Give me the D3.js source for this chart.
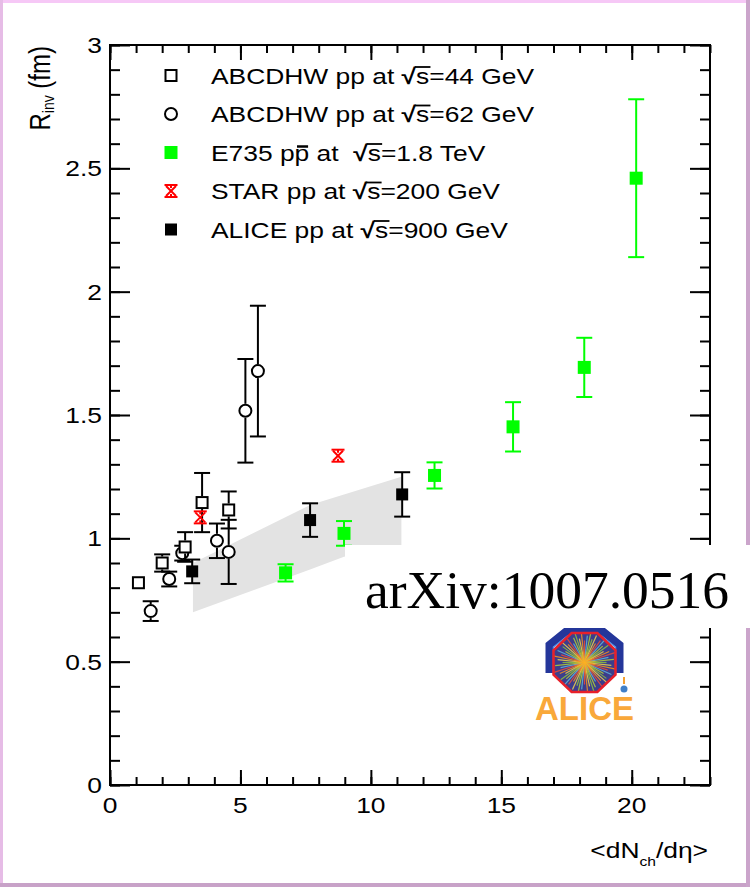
<!DOCTYPE html>
<html>
<head>
<meta charset="utf-8">
<script src="https://cdn.jsdelivr.net/npm/d3@7"></script>
<style>
  html, body { margin: 0; padding: 0; background: #fff; }
  svg { display: block; }
  text { font-family: "Liberation Sans", Arial, Helvetica, sans-serif; }
  text.serif { font-family: "Liberation Serif", "Times New Roman", serif; }
</style>
</head>
<body>
<svg id="chart" width="750" height="887"></svg>
<script>
// ---------- data: R_inv (fm) versus <dN_ch/deta> ----------
// ABCDHW pp, sqrt(s) = 44 GeV
const abcdhw44X   = [1.09, 2.00, 2.88, 3.53, 4.55];
const abcdhw44R   = [0.82, 0.90, 0.965, 1.145, 1.115];
const abcdhw44Err = [0.02, 0.035, 0.06, 0.12, 0.075];

// ABCDHW pp, sqrt(s) = 62 GeV
const abcdhw62X   = [1.56, 2.27, 2.77, 4.10, 4.55, 5.19, 5.67];
const abcdhw62R   = [0.705, 0.835, 0.94, 0.99, 0.945, 1.517, 1.678];
const abcdhw62Err = [0.04, 0.03, 0.03, 0.07, 0.13, 0.21, 0.265];

// E735 p-pbar, sqrt(s) = 1.8 TeV
const e735X   = [6.73, 8.97, 12.44, 15.45, 18.18, 20.17];
const e735R   = [0.86, 1.02, 1.255, 1.452, 1.693, 2.46];
const e735Err = [0.035, 0.05, 0.053, 0.10, 0.12, 0.32];

// STAR pp, sqrt(s) = 200 GeV
const starX   = [3.46, 8.74];
const starR   = [1.085, 1.335];

// ALICE pp, sqrt(s) = 900 GeV
const aliceX   = [3.15, 7.67, 11.20];
const aliceR   = [0.866, 1.074, 1.178];
const aliceErr = [0.048, 0.068, 0.09];

// ALICE systematic band
const bandX     = [3.18, 7.67, 8.97, 11.17];
const bandUpper = [0.90, 1.135, 1.178, 1.25];
const bandLower = [0.70, 0.874, 0.925, 0.97];

// axes
const xMajorTicks = [0, 5, 10, 15, 20];
const xTickLabels = ["0", "5", "10", "15", "20"];
const yMajorTicks = [0, 0.5, 1, 1.5, 2, 2.5, 3];
const yTickLabels = ["0", "0.5", "1", "1.5", "2", "2.5", "3"];

// legend
const legendPrefix = ["ABCDHW pp at ", "ABCDHW pp at ", "E735 pp at  ", "STAR pp at ", "ALICE pp at "];
const legendEnergy = ["=44 GeV", "=62 GeV", "=1.8 TeV", "=200 GeV", "=900 GeV"];
const legendBarChar = [-1, -1, 6, -1, -1];   // character carrying an antiparticle bar

// ---------- layout ----------
const W = 750, H = 887;
const frame = { left: 110, right: 710, top: 45, bottom: 785 };
const SX = 1.2;            // horizontal stretch of the lettering
const FS = 22;             // base font size

const svg = d3.select("#chart");
const x = d3.scaleLinear().domain([0, 23]).range([frame.left, frame.right]);
const y = d3.scaleLinear().domain([0, 3]).range([frame.bottom, frame.top]);

svg.append("rect").attr("width", W).attr("height", H).attr("fill", "#fff");

// page border
svg.append("rect").attr("x", 0).attr("y", 0).attr("width", W).attr("height", 3).attr("fill", "#f6c8f6");
svg.append("rect").attr("x", 0).attr("y", 0).attr("width", 3).attr("height", H).attr("fill", "#e6bce6");
svg.append("rect").attr("x", 0).attr("y", H - 4).attr("width", W).attr("height", 4).attr("fill", "#c8a2c8");
svg.append("rect").attr("x", W - 4).attr("y", 0).attr("width", 4).attr("height", H).attr("fill", "#cba5cb");

// ---------- band ----------
const bandPts = bandX.map((d, i) => [d, bandUpper[i]])
  .concat(bandX.map((d, i) => [d, bandLower[i]]).reverse());
svg.append("path")
  .attr("d", d3.line().x(d => x(d[0])).y(d => y(d[1]))(bandPts) + "Z")
  .attr("fill", "#e3e3e3");

// ---------- axes ----------
function tickLayer(axis, transform) {
  const g = svg.append("g").attr("transform", transform).call(axis);
  g.select(".domain").remove();
  g.selectAll("text").remove();
  g.selectAll("line").attr("stroke", "#000").attr("stroke-width", 2);
  return g;
}
const xMinor = d3.range(0, 24, 1);
const yMinor = d3.range(0, 3.001, 0.1);

tickLayer(d3.axisBottom(x).tickValues(xMajorTicks).tickSize(-15), `translate(0,${frame.bottom})`);
tickLayer(d3.axisBottom(x).tickValues(xMinor).tickSize(-8), `translate(0,${frame.bottom})`);
tickLayer(d3.axisTop(x).tickValues(xMajorTicks).tickSize(-15), `translate(0,${frame.top})`);
tickLayer(d3.axisTop(x).tickValues(xMinor).tickSize(-8), `translate(0,${frame.top})`);
tickLayer(d3.axisLeft(y).tickValues(yMajorTicks).tickSize(-20), `translate(${frame.left},0)`);
tickLayer(d3.axisLeft(y).tickValues(yMinor).tickSize(-10), `translate(${frame.left},0)`);
tickLayer(d3.axisRight(y).tickValues(yMajorTicks).tickSize(-20), `translate(${frame.right},0)`);
tickLayer(d3.axisRight(y).tickValues(yMinor).tickSize(-10), `translate(${frame.right},0)`);

svg.append("rect")
  .attr("x", frame.left).attr("y", frame.top)
  .attr("width", frame.right - frame.left).attr("height", frame.bottom - frame.top)
  .attr("fill", "none").attr("stroke", "#000").attr("stroke-width", 2);

// tick labels
function stretchedText(px, py, str, anchor, size) {
  return svg.append("g").attr("transform", `translate(${px},${py}) scale(${SX},1)`)
    .append("text").attr("text-anchor", anchor).attr("font-size", size).attr("fill", "#000").text(str);
}
yMajorTicks.forEach((v, i) => stretchedText(frame.left - 8, y(v) + 8, yTickLabels[i], "end", FS));
xMajorTicks.forEach((v, i) => stretchedText(x(v), frame.bottom + 28, xTickLabels[i], "middle", FS));

// axis titles
const yTitle = svg.append("g")
  .attr("transform", `translate(50,46) scale(${SX},1) rotate(-90)`)
  .append("text").attr("text-anchor", "end").attr("font-size", 24).attr("fill", "#000");
yTitle.append("tspan").text("R");
yTitle.append("tspan").attr("font-size", 14).attr("dy", 3).text("inv");
yTitle.append("tspan").attr("dy", -3).text(" (fm)");

const xTitle = svg.append("g")
  .attr("transform", `translate(708,858) scale(${SX},1)`)
  .append("text").attr("text-anchor", "end").attr("font-size", FS).attr("fill", "#000");
xTitle.append("tspan").text("<dN");
xTitle.append("tspan").attr("font-size", 13).attr("dy", 8).text("ch");
xTitle.append("tspan").attr("dy", -8).text("/dη>");

// ---------- markers ----------
const CAP = 8;
function errorBars(xs, rs, es, color, gap) {
  const g = svg.append("g").attr("stroke", color).attr("stroke-width", 2);
  xs.forEach((xv, i) => {
    const px = x(xv), pc = y(rs[i]), pt = y(rs[i] + es[i]), pb = y(rs[i] - es[i]);
    if (pc - pt <= gap) return;
    g.append("line").attr("x1", px).attr("x2", px).attr("y1", pt).attr("y2", pc - gap);
    g.append("line").attr("x1", px).attr("x2", px).attr("y1", pc + gap).attr("y2", pb);
    g.append("line").attr("x1", px - CAP).attr("x2", px + CAP).attr("y1", pt).attr("y2", pt);
    g.append("line").attr("x1", px - CAP).attr("x2", px + CAP).attr("y1", pb).attr("y2", pb);
  });
}
function drawOpenSquare(g, px, py) {
  g.append("rect").attr("x", px - 5.5).attr("y", py - 5.5).attr("width", 11).attr("height", 11)
    .attr("fill", "#fff").attr("stroke", "#000").attr("stroke-width", 2);
}
function drawOpenCircle(g, px, py) {
  g.append("circle").attr("cx", px).attr("cy", py).attr("r", 6)
    .attr("fill", "#fff").attr("stroke", "#000").attr("stroke-width", 2);
}
function drawFilledSquare(g, px, py, color, s) {
  g.append("rect").attr("x", px - s / 2).attr("y", py - s / 2).attr("width", s).attr("height", s).attr("fill", color);
}
function drawStar(g, px, py) {
  const s = g.append("g").attr("stroke", "#ff0000").attr("stroke-width", 2).attr("fill", "none");
  s.append("line").attr("x1", px - 5).attr("y1", py - 5).attr("x2", px + 5).attr("y2", py + 5);
  s.append("line").attr("x1", px - 5).attr("y1", py + 5).attr("x2", px + 5).attr("y2", py - 5);
  s.append("line").attr("x1", px).attr("y1", py - 6).attr("x2", px).attr("y2", py - 3);
  s.append("line").attr("x1", px).attr("y1", py + 3).attr("x2", px).attr("y2", py + 6);
  s.append("line").attr("x1", px - 6.5).attr("y1", py - 6).attr("x2", px + 6.5).attr("y2", py - 6);
  s.append("line").attr("x1", px - 6.5).attr("y1", py + 6).attr("x2", px + 6.5).attr("y2", py + 6);
}

const marks = svg.append("g");
errorBars(e735X, e735R, e735Err, "#00ff00", 0);
e735X.forEach((xv, i) => drawFilledSquare(marks, x(xv), y(e735R[i]), "#00ff00", 13));

errorBars(aliceX, aliceR, aliceErr, "#000", 0);
aliceX.forEach((xv, i) => drawFilledSquare(marks, x(xv), y(aliceR[i]), "#000", 12));

errorBars(abcdhw62X, abcdhw62R, abcdhw62Err, "#000", 7);
abcdhw62X.forEach((xv, i) => drawOpenCircle(svg, x(xv), y(abcdhw62R[i])));

errorBars(abcdhw44X, abcdhw44R, abcdhw44Err, "#000", 6.5);
abcdhw44X.forEach((xv, i) => drawOpenSquare(svg, x(xv), y(abcdhw44R[i])));

starX.forEach((xv, i) => drawStar(svg, x(xv), y(starR[i])));

// ---------- legend ----------
const legendMarkerX = 171, legendTextX = 211, legendBase0 = 83.5, legendStep = 38.5;
const legendDraw = [
  (g, px, py) => drawOpenSquare(g, px, py),
  (g, px, py) => drawOpenCircle(g, px, py),
  (g, px, py) => drawFilledSquare(g, px, py, "#00ff00", 13),
  (g, px, py) => drawStar(g, px, py),
  (g, px, py) => drawFilledSquare(g, px, py, "#000", 12)
];
legendPrefix.forEach((pre, i) => {
  const base = legendBase0 + i * legendStep;
  legendDraw[i](svg, legendMarkerX, base - 8);
  const g = svg.append("g").attr("transform", `translate(${legendTextX},${base}) scale(${SX},1)`);
  const t = g.append("text").attr("font-size", FS).attr("fill", "#000").style("white-space", "pre");
  t.append("tspan").text(pre);
  t.append("tspan").attr("font-weight", "bold").text("√");
  t.append("tspan").text("s" + legendEnergy[i]);
  const node = t.node();
  const sIdx = pre.length + 1;
  const s0 = node.getStartPositionOfChar(sIdx).x, s1 = node.getEndPositionOfChar(sIdx).x;
  g.append("line").attr("x1", s0 - 1).attr("x2", s1 + 1).attr("y1", -16.5).attr("y2", -16.5)
    .attr("stroke", "#000").attr("stroke-width", 1.8);
  if (legendBarChar[i] >= 0) {
    const b0 = node.getStartPositionOfChar(legendBarChar[i]).x, b1 = node.getEndPositionOfChar(legendBarChar[i]).x;
    g.append("line").attr("x1", b0 + 2).attr("x2", b1 - 1).attr("y1", -14).attr("y2", -14)
      .attr("stroke", "#000").attr("stroke-width", 2.5);
  }
});

// ---------- reference label ----------
svg.append("rect").attr("x", 345).attr("y", 545).attr("width", W - 345).attr("height", 83).attr("fill", "#fff");
svg.append("text").attr("class", "serif").attr("x", 365).attr("y", 607.5)
  .attr("font-size", 53.5).attr("fill", "#000").text("arXiv:1007.0516");

// ---------- experiment logo ----------
const logo = svg.append("g");
const lcx = 584.5, lcy = 662.5;
function octagon(cx, cy, rx, ry) {
  const a = 0.4142;
  return [[cx - rx * a, cy - ry], [cx + rx * a, cy - ry], [cx + rx, cy - ry * a], [cx + rx, cy + ry * a],
          [cx + rx * a, cy + ry], [cx - rx * a, cy + ry], [cx - rx, cy + ry * a], [cx - rx, cy - ry * a]];
}
const arch = d3.line()([[lcx - 35, 673], [lcx - 35, 645], [lcx - 19, 632], [lcx + 19, 632], [lcx + 35, 645], [lcx + 35, 673]]);
logo.append("path").attr("d", arch).attr("fill", "none").attr("stroke", "#24369a").attr("stroke-width", 8);
logo.append("path").attr("d", d3.line()([[lcx - 31, 673], [lcx - 31, 647], [lcx - 17, 636], [lcx + 17, 636], [lcx + 31, 647], [lcx + 31, 673]]))
  .attr("fill", "none").attr("stroke", "#4f8fe6").attr("stroke-width", 1.5);
const oct = octagon(lcx, lcy, 31, 29.5);
const defs = svg.append("defs");
defs.append("clipPath").attr("id", "octClip").append("polygon").attr("points", oct.map(p => p.join(",")).join(" "));
const glow = defs.append("radialGradient").attr("id", "glow");
glow.append("stop").attr("offset", "0%").attr("stop-color", "#ffb020").attr("stop-opacity", 1);
glow.append("stop").attr("offset", "100%").attr("stop-color", "#ff9a20").attr("stop-opacity", 0);
logo.append("polygon").attr("points", oct.map(p => p.join(",")).join(" ")).attr("fill", "#3d3f8c");
const rays = logo.append("g").attr("clip-path", "url(#octClip)");
const rayColors = ["#8cc63f", "#f2d64b", "#f7941d", "#e94e3c", "#5fb6dd", "#b5d334"];
d3.range(60).forEach(k => {
  const ang = k * 2 * Math.PI / 60, len = 22 + (k * 7 % 5) * 2.5;
  rays.append("line").attr("x1", lcx).attr("y1", lcy)
    .attr("x2", lcx + len * Math.cos(ang)).attr("y2", lcy + len * Math.sin(ang))
    .attr("stroke", rayColors[k % rayColors.length]).attr("stroke-width", 1.2).attr("opacity", 0.85);
});
logo.append("circle").attr("cx", lcx).attr("cy", lcy).attr("r", 12).attr("fill", "url(#glow)");
logo.append("polygon").attr("points", oct.map(p => p.join(",")).join(" "))
  .attr("fill", "none").attr("stroke", "#e8202a").attr("stroke-width", 2.5);
logo.append("line").attr("x1", 624).attr("x2", 624).attr("y1", 677).attr("y2", 684).attr("stroke", "#f5a030").attr("stroke-width", 2);
logo.append("circle").attr("cx", 624).attr("cy", 689).attr("r", 3.5).attr("fill", "#3f7fc8");
logo.append("text").attr("x", lcx).attr("y", 720).attr("text-anchor", "middle")
  .attr("font-size", 33).attr("font-weight", "bold").attr("fill", "#f9a83a").text("ALICE");
</script>
</body>
</html>
